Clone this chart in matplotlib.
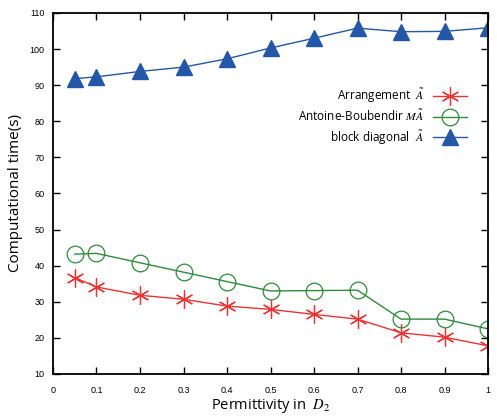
import numpy as np
import matplotlib
matplotlib.use('Agg')
import matplotlib.pyplot as plt

# values
eps = [0.05, 0.1, 0.2, 0.3, 0.4, 0.5, 0.6, 0.7, 0.8, 0.9, 1.0]
t_arrangement = [36.7, 34.1, 31.8, 30.7, 28.8, 27.9, 26.5, 25.2, 21.4, 20.2, 17.8]
t_antoine = [43.2, 43.4, 40.8, 38.2, 35.6, 33.0, 33.1, 33.2, 25.2, 25.2, 22.5]
t_block = [91.8, 92.3, 93.8, 95.0, 97.3, 100.3, 103.0, 105.8, 104.8, 104.9, 105.9]

labels = ['Arrangement  $\\tilde{A}$', 'Antoine-Boubendir $M\\tilde{A}$', 'block diagonal  $\\tilde{A}$']
xticks = [0, 0.1, 0.2, 0.3, 0.4, 0.5, 0.6, 0.7, 0.8, 0.9, 1]
xticklabels = ['0', '0.1', '0.2', '0.3', '0.4', '0.5', '0.6', '0.7', '0.8', '0.9', '1']
yticks = [10, 20, 30, 40, 50, 60, 70, 80, 90, 100, 110]

plt.rcParams['mathtext.fontset'] = 'stix'

fig = plt.figure(figsize=(4.97, 4.18), dpi=100)
ax = fig.add_axes([0.1066, 0.1053, 0.8754, 0.8637])

ax.plot(eps, t_arrangement, color='#ee3333', lw=1, marker=(6, 2, 0), ms=13,
        mew=0.9, label=labels[0])
ax.plot(eps, t_antoine, color='#2e8b3a', lw=1, marker='o', ms=12, mfc='none',
        mew=0.9, label=labels[1])
ax.plot(eps, t_block, color='#2457a8', lw=1, marker='^', ms=12, label=labels[2])

ax.set_xlim(0, 1)
ax.set_ylim(10, 110)
ax.set_xticks(xticks)
ax.set_xticklabels(xticklabels)
ax.set_yticks(yticks)
ax.tick_params(direction='in', length=5, width=1, top=True, right=True,
               labelsize=6.5)
ax.tick_params(axis='x', pad=9)
ax.tick_params(axis='y', pad=6)
for lab in ax.get_xticklabels() + ax.get_yticklabels():
    lab.set_family('Liberation Sans')
for s in ax.spines.values():
    s.set_linewidth(1.3)

ax.set_xlabel('Permittivity in  $D_2$', fontsize=10.5, family='Open Sans', labelpad=1)
ax.set_ylabel('Computational time(s)', fontsize=11, family='Open Sans', labelpad=5)

leg = ax.legend(loc='upper right', bbox_to_anchor=(0.975, 0.825), frameon=False,
                markerfirst=False, handlelength=2.8, labelspacing=0.35,
                prop={'family': 'Open Sans', 'size': 8.5})
for t in leg.get_texts():
    t.set_ha('right')

fig.savefig('out.png', dpi=100)
